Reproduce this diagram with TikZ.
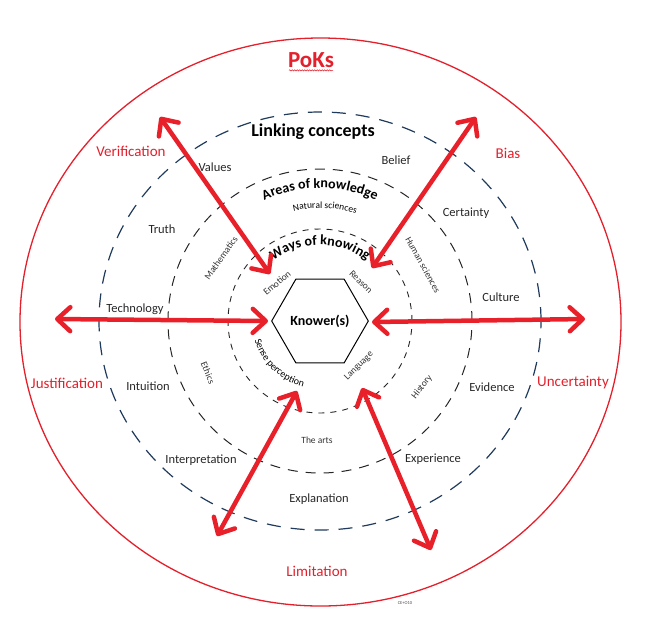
\documentclass[tikz,border=0pt]{standalone}
\usepackage{fontspec}
\setmainfont{Carlito}
\usetikzlibrary{arrows.meta,shapes.geometric,decorations.text,decorations.pathmorphing}
\definecolor{pokred}{HTML}{E3202B}
\definecolor{arrred}{HTML}{E8202A}
\definecolor{navy}{HTML}{1F3A5C}
\begin{document}
\begin{tikzpicture}[x=1pt,y=1pt,
  lbl/.style={font=\fontsize{12.5}{14}\selectfont, text=black!85, inner sep=0},
  small/.style={font=\fontsize{9.5}{11}\selectfont, text=black!80, inner sep=0},
  redlbl/.style={font=\fontsize{15}{17}\selectfont, text=pokred, inner sep=0},
  barb/.tip={Straight Barb[length=13pt,width=24pt,round]},
  twoway/.style={arrred, line width=4.5pt, barb-barb},
  ring3/.style={navy, line width=1.2pt, dash pattern=on 14pt off 10pt},
  ring2/.style={black!85, line width=1pt, dash pattern=on 10pt off 8pt},
  ring1/.style={black!85, line width=0.9pt, dash pattern=on 6pt off 6pt},
]
\useasboundingbox (0,0) rectangle (645,-625);
\coordinate (C) at (320,-321);
\coordinate (O) at (320.5,-322);
% rings
\draw[pokred, line width=1.3pt] (O) ellipse [x radius=300.5, y radius=284];
\draw[ring3] (C) ellipse [x radius=221, y radius=209];
\draw[ring2] (C) circle [radius=152];
\draw[ring1] (C) circle [radius=92];
% centre
\node[draw, regular polygon, regular polygon sides=6, minimum size=84pt, inner sep=0,
      line width=1pt, font=\fontsize{14}{16}\selectfont\bfseries] (K) at (C) {Knower(s)};
% title
\node[font=\fontsize{23}{25}\selectfont\bfseries, text=pokred, inner sep=1pt] (poks) at (311,-60) {PoKs};
\draw[pokred, line width=0.5pt, decorate, decoration={snake, amplitude=0.7pt, segment length=2.5pt}]
  ([xshift=-22pt,yshift=-3pt]poks.base) -- ([xshift=22pt,yshift=-3pt]poks.base);
% curved headings
\path[decorate, decoration={text along path, text align=center,
  text={|\fontsize{14}{16}\selectfont\bfseries|Areas of knowledge}}]
  ([shift={(125:133)}]C) arc[start angle=125, end angle=55, radius=133];
\path[decorate, decoration={text along path, text align=center,
  text={|\fontsize{9.5}{11}\selectfont|Natural sciences}}]
  ([shift={(117.5:113)}]C) arc[start angle=117.5, end angle=57.5, radius=113];
\path[decorate, decoration={text along path, text align=center,
  text={|\fontsize{14}{16}\selectfont\bfseries|Ways of knowing}}]
  ([shift={(140:76)}]C) arc[start angle=140, end angle=40, radius=76];
\path[decorate, decoration={text along path, text align=center,
  text={|\fontsize{10}{12}\selectfont|Sense perception}}]
  ([shift={(181:68)}]C) arc[start angle=181, end angle=271, radius=68];
% straight heading
\node[font=\fontsize{18}{20}\selectfont\bfseries, inner sep=0] (link) at (313,-132) {Linking concepts};
% linking concepts
\node[lbl] (values) at (215,-167) {Values};
\node[lbl] (belief) at (396,-160) {Belief};
\node[lbl] (truth) at (162,-229) {Truth};
\node[lbl] (certainty) at (466,-213) {Certainty};
\node[lbl] (culture) at (501,-297) {Culture};
\node[lbl] (technology) at (135,-309) {Technology};
\node[lbl] (intuition) at (148,-386) {Intuition};
\node[lbl] (evidence) at (492,-387) {Evidence};
\node[lbl] (interp) at (201,-460) {Interpretation};
\node[lbl] (experience) at (433,-459) {Experience};
\node[lbl] (explanation) at (319,-499) {Explanation};
% areas of knowledge
\node[small, rotate=55] (math) at (221,-258) {Mathematics};
\node[small, rotate=-61] (human) at (423,-265) {Human sciences};
\node[small, rotate=-68] (ethics) at (208,-373) {Ethics};
\node[small, rotate=52] (history) at (422,-387) {History};
\node[small] (arts) at (317,-440) {The arts};
% ways of knowing
\node[small, rotate=40] (emotion) at (277,-283) {Emotion};
\node[small, rotate=-44] (reason) at (361,-282) {Reason};
\node[small, rotate=45] (language) at (359,-366) {Language};
% problems of knowledge
\node[redlbl] (verif) at (131,-151) {Verification};
\node[redlbl] (bias) at (508,-153) {Bias};
\node[redlbl] (justif) at (67,-383) {Justification};
\node[redlbl] (uncert) at (573,-383) {Uncertainty};
\node[redlbl] (limit) at (317,-571) {Limitation};
\node[font=\fontsize{4.5}{5}\selectfont, text=black!70, inner sep=0] (mark) at (405,-603) {CE+O10};
% arrows
\coordinate (a1) at (160,-117); \coordinate (b1) at (270,-274);
\coordinate (a2) at (476,-117); \coordinate (b2) at (372,-268);
\coordinate (a3) at (55,-319);  \coordinate (b3) at (268,-321);
\coordinate (a4) at (585,-319); \coordinate (b4) at (372,-322);
\coordinate (a5) at (217,-536); \coordinate (b5) at (297,-391);
\coordinate (a6) at (431,-550); \coordinate (b6) at (362,-388);
\foreach \i in {1,...,6} {\draw[twoway] (a\i) -- (b\i);}
\end{tikzpicture}
\end{document}
